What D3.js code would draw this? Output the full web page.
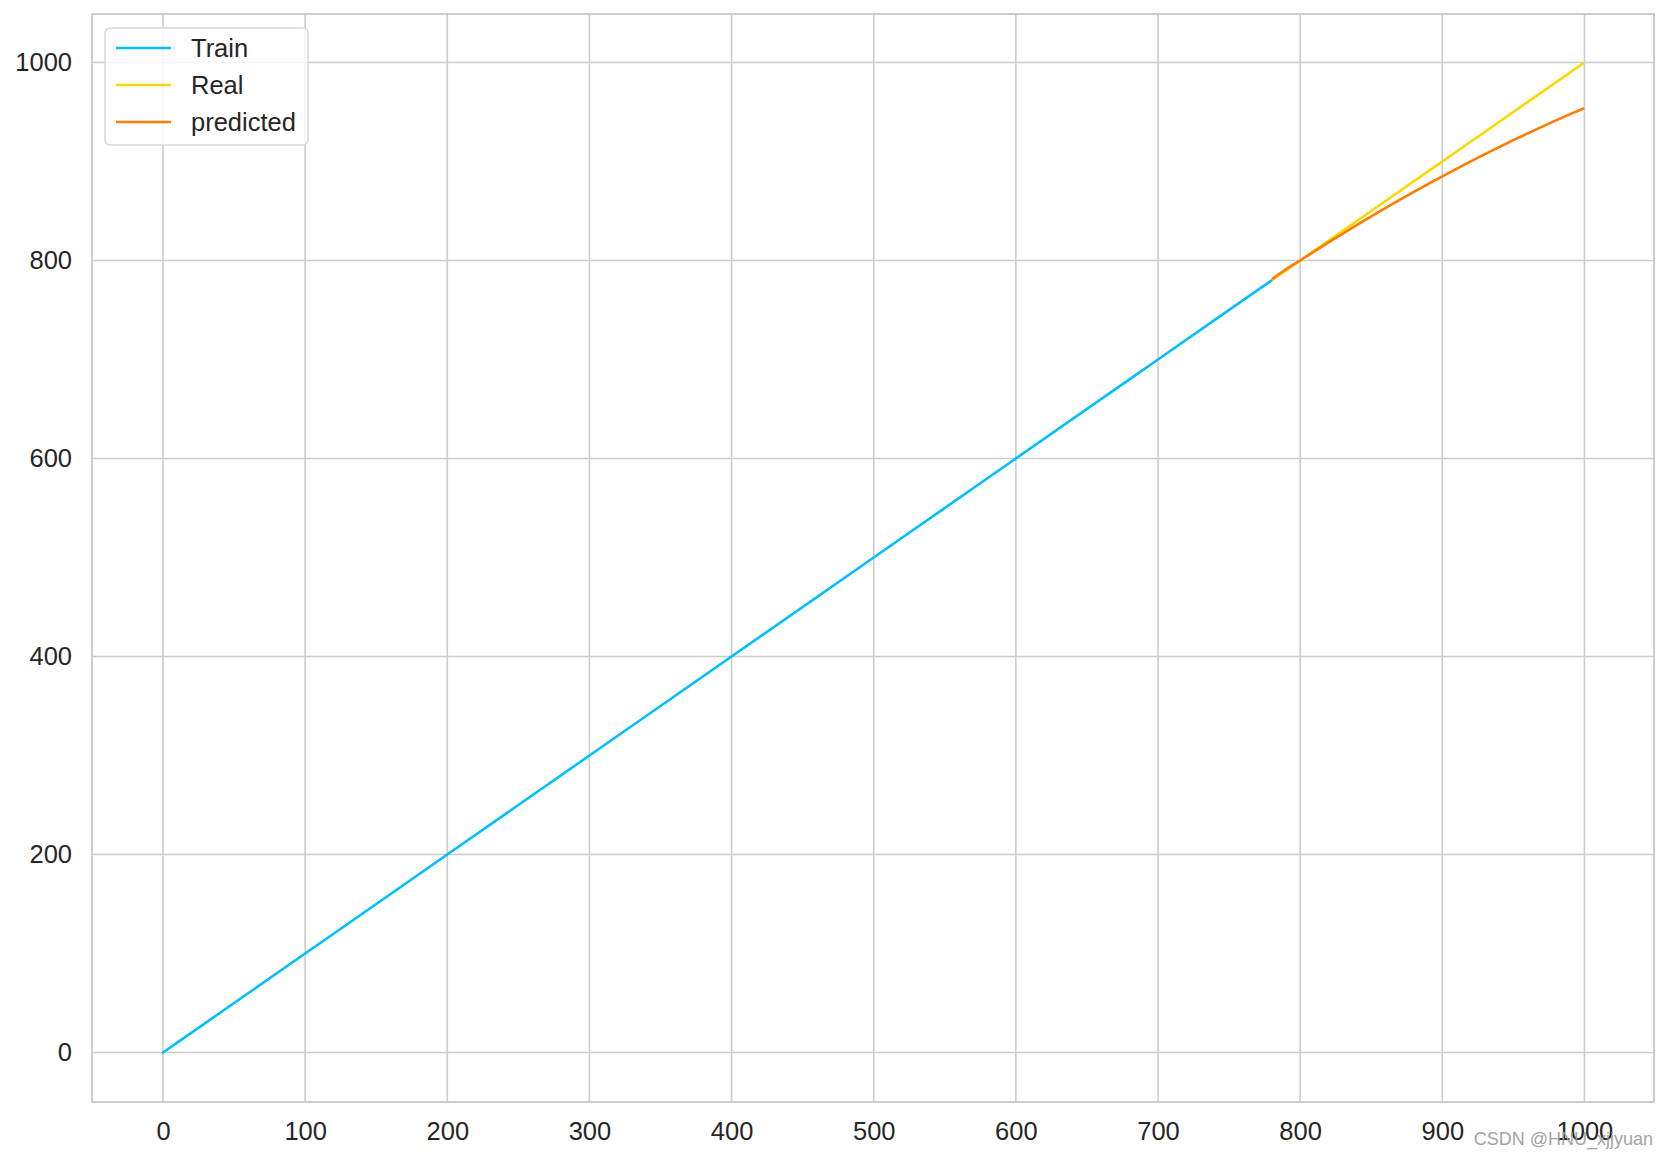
<!DOCTYPE html>
<html>
<head>
<meta charset="utf-8">
<script src="https://cdn.jsdelivr.net/npm/d3@7"></script>
<style>
  body { margin: 0; background: #fff; }
  text { font-family: "Liberation Sans", Arial, sans-serif; fill: #262626; }
</style>
</head>
<body>
<div id="chart"></div>
<script>
// values
const trainX = [0, 100, 200, 300, 400, 500, 600, 700, 781]
const trainY = [0, 100, 200, 300, 400, 500, 600, 700, 781]

const realX = [781, 800, 850, 900, 950, 999]
const realY = [781, 800, 850, 900, 950, 999]

const predX = [781, 790, 800, 810, 820, 830, 840, 850, 860, 870, 880, 890, 900,
               910, 920, 930, 940, 950, 960, 970, 980, 990, 999]
const predY = [782.0, 791.1, 800.0, 809.2, 818.3, 827.2, 835.9, 844.5, 852.9, 861.2, 869.3, 877.2, 885.0,
               892.6, 900.1, 907.4, 914.5, 921.5, 928.3, 935.0, 941.5, 947.8, 953.2]

const xTicks = [0, 100, 200, 300, 400, 500, 600, 700, 800, 900, 1000]
const yTicks = [0, 200, 400, 600, 800, 1000]

const seriesNames = ['Train', 'Real', 'predicted']
const seriesColors = ['#00bfff', '#ffd700', '#ff7c00']

const width = 1668
const height = 1159
const margin = { left: 92, right: 14, top: 14, bottom: 57 }

const svg = d3.select('#chart').append('svg')
    .attr('width', width)
    .attr('height', height)

const x = d3.scaleLinear()
    .domain([-49.95, 1048.95])
    .range([margin.left, width - margin.right])
const y = d3.scaleLinear()
    .domain([-49.95, 1048.95])
    .range([height - margin.bottom, margin.top])

const gridColor = '#cccccc'
const fontSize = 25.5

// grid
svg.append('g')
  .selectAll('line')
  .data(xTicks)
  .enter().append('line')
    .attr('x1', d => x(d)).attr('x2', d => x(d))
    .attr('y1', margin.top).attr('y2', height - margin.bottom)
    .attr('stroke', gridColor)
    .attr('stroke-width', 1.6)
svg.append('g')
  .selectAll('line')
  .data(yTicks)
  .enter().append('line')
    .attr('y1', d => y(d)).attr('y2', d => y(d))
    .attr('x1', margin.left).attr('x2', width - margin.right)
    .attr('stroke', gridColor)
    .attr('stroke-width', 1.6)

// axes (labels only, seaborn whitegrid style)
const xAxis = svg.append('g')
    .attr('transform', 'translate(0,' + (height - margin.bottom) + ')')
    .call(d3.axisBottom(x).tickValues(xTicks).tickSize(0).tickPadding(20).tickFormat(d3.format('d')))
const yAxis = svg.append('g')
    .attr('transform', 'translate(' + margin.left + ',0)')
    .call(d3.axisLeft(y).tickValues(yTicks).tickSize(0).tickPadding(20).tickFormat(d3.format('d')))
xAxis.select('.domain').remove()
yAxis.select('.domain').remove()
svg.selectAll('.tick text')
    .attr('font-size', fontSize)
    .attr('font-family', '"Liberation Sans", Arial, sans-serif')
    .attr('fill', '#262626')

// spines
svg.append('rect')
    .attr('x', margin.left)
    .attr('y', margin.top)
    .attr('width', width - margin.left - margin.right)
    .attr('height', height - margin.top - margin.bottom)
    .attr('fill', 'none')
    .attr('stroke', gridColor)
    .attr('stroke-width', 2)

const line = d3.line()
    .curve(d3.curveMonotoneX)
    .x(d => x(d[0]))
    .y(d => y(d[1]))

const series = [
  d3.zip(trainX, trainY),
  d3.zip(realX, realY),
  d3.zip(predX, predY)
]

svg.append('g')
  .selectAll('path')
  .data(series)
  .enter().append('path')
    .attr('d', line)
    .attr('fill', 'none')
    .attr('stroke', (d, i) => seriesColors[i])
    .attr('stroke-width', 2.6)
    .attr('stroke-linecap', 'square')

// legend
const legend = svg.append('g')
    .attr('transform', 'translate(105,28)')
legend.append('rect')
    .attr('width', 203)
    .attr('height', 117)
    .attr('rx', 5)
    .attr('fill', 'white')
    .attr('fill-opacity', 0.8)
    .attr('stroke', '#d6d6d6')
    .attr('stroke-width', 1.5)
const item = legend.selectAll('g.item')
  .data(seriesNames)
  .enter().append('g')
    .attr('class', 'item')
    .attr('transform', (d, i) => 'translate(0,' + (20 + i * 37) + ')')
item.append('line')
    .attr('x1', 11).attr('x2', 66)
    .attr('stroke', (d, i) => seriesColors[i])
    .attr('stroke-width', 2.6)
item.append('text')
    .attr('x', 86)
    .attr('dy', '0.35em')
    .attr('font-size', fontSize)
    .text(d => d)

// watermark
svg.append('text')
    .attr('x', 1653)
    .attr('y', 1145)
    .attr('text-anchor', 'end')
    .attr('font-size', 18)
    .style('fill', '#9a9a9a')
    .attr('opacity', 0.9)
    .text('CSDN @HNU_xjjyuan')
</script>
</body>
</html>
